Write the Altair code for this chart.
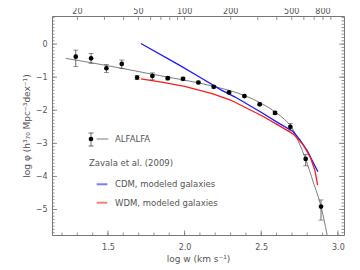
import altair as alt
import pandas as pd
import numpy as np

# ---------------- data ----------------
alf_logw = [1.29, 1.39, 1.49, 1.59, 1.69, 1.79, 1.89, 1.99, 2.09, 2.19, 2.29, 2.39, 2.49, 2.59, 2.69, 2.79, 2.89]
alf_logphi = [-0.38, -0.43, -0.73, -0.60, -1.01, -0.96, -1.03, -1.05, -1.16, -1.29, -1.46, -1.57, -1.82, -2.08, -2.50, -3.47, -4.91]
alf_hi = [-0.18, -0.28, -0.62, -0.48, -0.95, -0.87, -0.98, -1.00, -1.12, -1.25, -1.43, -1.54, -1.78, -2.03, -2.40, -3.34, -4.71]
alf_lo = [-0.68, -0.58, -0.86, -0.74, -1.07, -1.08, -1.08, -1.10, -1.20, -1.33, -1.49, -1.60, -1.86, -2.13, -2.60, -3.68, -5.32]

fit_logw = [1.225, 1.4, 1.6, 1.8, 2.0, 2.1, 2.2, 2.3, 2.4, 2.5, 2.6, 2.65, 2.7, 2.74, 2.79, 2.84, 2.89, 2.93]
fit_logphi = [-0.43, -0.57, -0.74, -0.92, -1.09, -1.18, -1.29, -1.41, -1.57, -1.79, -2.08, -2.27, -2.52, -2.92, -3.48, -4.18, -4.91, -5.77]

cdm_logw = [1.715, 1.96, 2.1, 2.24, 2.33, 2.51, 2.6, 2.71, 2.75, 2.80, 2.83, 2.87]
cdm_logphi = [0.02, -0.62, -1.0, -1.39, -1.60, -2.09, -2.35, -2.65, -2.88, -3.22, -3.50, -3.86]

wdm_logw = [1.715, 1.85, 2.0, 2.18, 2.30, 2.51, 2.6, 2.71, 2.775, 2.82, 2.85, 2.868]
wdm_logphi = [-1.05, -1.15, -1.28, -1.50, -1.69, -2.18, -2.42, -2.72, -3.05, -3.42, -3.81, -4.26]

x_labels = [1.5, 2.0, 2.5, 3.0]
y_labels = [-5, -4, -3, -2, -1, 0]
top_labels = [20, 50, 100, 200, 500, 800]
top_ticks = [20, 30, 40, 50, 60, 70, 80, 90, 100, 200, 300, 400, 500, 600, 700, 800, 900]

legend_texts = ["ALFALFA", "Zavala et al. (2009)", "CDM, modeled galaxies", "WDM, modeled galaxies"]

# ---------------- styling ----------------
W, H = 292, 219
XDOM = [1.135, 3.04]
YDOM = [-5.77, 0.85]
FONT = "DejaVu Sans"
TXT = "#555555"
AX = "#777777"
BLUE = "#1a1aff"
RED = "#ff1a1a"

def X(field="x"):
    return alt.X(f"{field}:Q", scale=alt.Scale(domain=XDOM, nice=False, zero=False),
                 axis=alt.Axis(values=x_labels, format=".1f", ticks=False, domain=False, grid=False,
                               labelFontSize=8, labelColor=TXT, labelPadding=8, labelFont=FONT,
                               title="log w (km s⁻¹)", titleFont=FONT, titleFontSize=9,
                               titleFontWeight="normal", titleColor=TXT, titlePadding=3))

def Y(field="y"):
    return alt.Y(f"{field}:Q", scale=alt.Scale(domain=YDOM, nice=False, zero=False),
                 axis=alt.Axis(values=y_labels, format="d", ticks=False, domain=False, grid=False,
                               labelFontSize=8, labelColor=TXT, labelPadding=5, labelFont=FONT,
                               title="log φ (h³₇₀ Mpc⁻³dex⁻¹)", titleFont=FONT, titleFontSize=9,
                               titleFontWeight="normal", titleColor=TXT, titlePadding=4))

alf = pd.DataFrame({"x": alf_logw, "y": alf_logphi, "hi": alf_hi, "lo": alf_lo})
fit = pd.DataFrame({"x": fit_logw, "y": fit_logphi})
cdm = pd.DataFrame({"x": cdm_logw, "y": cdm_logphi})
wdm = pd.DataFrame({"x": wdm_logw, "y": wdm_logphi})

layers = []
layers.append(alt.Chart(fit).mark_line(color="#6e6e6e", strokeWidth=0.9, clip=True,
                                       interpolate="monotone").encode(x=X(), y=Y()))
layers.append(alt.Chart(cdm).mark_line(color=BLUE, strokeWidth=1.3, clip=True).encode(x=X(), y=Y()))
layers.append(alt.Chart(wdm).mark_line(color=RED, strokeWidth=1.3, clip=True).encode(x=X(), y=Y()))
layers.append(alt.Chart(alf).mark_rule(color="#444", strokeWidth=0.8).encode(x=X(), y=Y("lo"), y2="hi:Q"))
layers.append(alt.Chart(alf).mark_tick(orient="horizontal", color="#444", size=5, thickness=0.8).encode(x=X(), y=Y("lo")))
layers.append(alt.Chart(alf).mark_tick(orient="horizontal", color="#444", size=5, thickness=0.8).encode(x=X(), y=Y("hi")))
layers.append(alt.Chart(alf).mark_circle(color="black", opacity=1, size=22).encode(x=X(), y=Y()))

# inward ticks
xminor = pd.DataFrame({"x": [round(1.2 + 0.1 * i, 2) for i in range(19)]})
xmajor = pd.DataFrame({"x": x_labels})
yminor = pd.DataFrame({"y": [round(-5.7 + 0.1 * i, 2) for i in range(66)]})
ymajor = pd.DataFrame({"y": y_labels})
tticks = pd.DataFrame({"v": top_ticks})
tlabs = pd.DataFrame({"v": top_labels})

tick_col = AX
layers.append(alt.Chart(xminor).mark_rule(color=tick_col, strokeWidth=0.8).encode(x=X(), y=alt.value(H), y2=alt.value(H - 2.5)))
layers.append(alt.Chart(xmajor).mark_rule(color=tick_col, strokeWidth=0.8).encode(x=X(), y=alt.value(H), y2=alt.value(H - 4.5)))
for xpos, sgn in [(0, 1), (W, -1)]:
    layers.append(alt.Chart(yminor).mark_rule(color=tick_col, strokeWidth=0.8).encode(y=Y(), x=alt.value(xpos), x2=alt.value(xpos + sgn * 2.5)))
    layers.append(alt.Chart(ymajor).mark_rule(color=tick_col, strokeWidth=0.8).encode(y=Y(), x=alt.value(xpos), x2=alt.value(xpos + sgn * 5)))
layers.append(alt.Chart(tticks).transform_calculate(x="log(datum.v)/LN10").mark_rule(color=tick_col, strokeWidth=0.8)
              .encode(x=X(), y=alt.value(0), y2=alt.value(4)))
layers.append(alt.Chart(tlabs).transform_calculate(x="log(datum.v)/LN10").mark_text(
    font=FONT, fontSize=8, color=TXT, align="center", baseline="alphabetic")
    .encode(x=X(), y=alt.value(-2.2), text="v:N"))

# legend
leg = pd.DataFrame({"t": legend_texts})
def leg_text(i, xp, yp):
    return alt.Chart(leg).transform_filter(f"datum.t == '{legend_texts[i]}'").mark_text(
        font=FONT, fontSize=8.5, color=TXT, align="left", baseline="middle").encode(
        x=alt.value(xp), y=alt.value(yp), text="t:N")

layers.append(leg_text(0, 63, 123))
layers.append(leg_text(1, 37, 147))
layers.append(leg_text(2, 63, 168))
layers.append(leg_text(3, 63, 186.5))
one = pd.DataFrame({"a": [0]})
layers.append(alt.Chart(one).mark_rule(color="#6e6e6e", strokeWidth=0.9).encode(x=alt.value(44.7), x2=alt.value(56.3), y=alt.value(123)))
layers.append(alt.Chart(one).mark_rule(color="#444", strokeWidth=0.8).encode(x=alt.value(39), y=alt.value(117), y2=alt.value(130)))
layers.append(alt.Chart(one).mark_rule(color="#444", strokeWidth=0.8).encode(x=alt.value(36.5), x2=alt.value(41.5), y=alt.value(117)))
layers.append(alt.Chart(one).mark_rule(color="#444", strokeWidth=0.8).encode(x=alt.value(36.5), x2=alt.value(41.5), y=alt.value(130)))
layers.append(alt.Chart(one).mark_circle(color="black", opacity=1, size=22).encode(x=alt.value(39), y=alt.value(123)))
layers.append(alt.Chart(one).mark_rule(color="#7a7aff", strokeWidth=2).encode(x=alt.value(44.7), x2=alt.value(55.3), y=alt.value(168.3)))
layers.append(alt.Chart(one).mark_rule(color="#ff7a7a", strokeWidth=2).encode(x=alt.value(44.7), x2=alt.value(55.3), y=alt.value(186.7)))

chart = alt.layer(*layers).properties(
    width=W, height=H,
    autosize=alt.AutoSizeParams(type="none"),
    padding={"left": 44, "top": 8, "right": 8, "bottom": 35},
    background="white",
).configure_view(stroke=AX, strokeWidth=1)

chart.save("out.html", embed_options={"renderer": "svg", "actions": False})
